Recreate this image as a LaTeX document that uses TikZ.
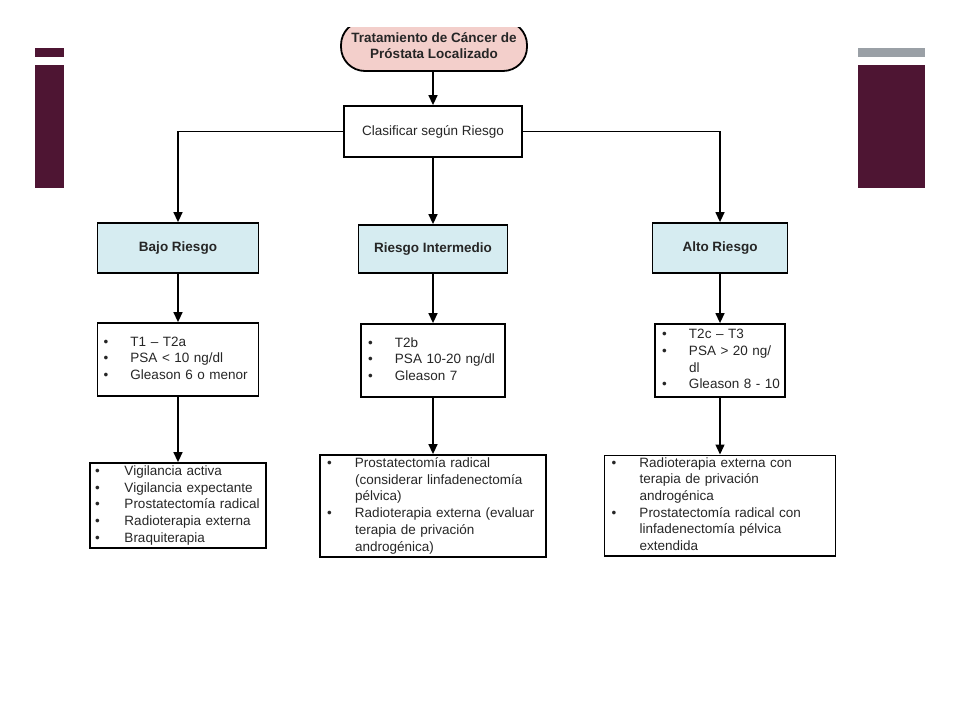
\documentclass[tikz,border=0pt]{standalone}
\usepackage{fontspec}
\setmainfont{Liberation Sans}
\usetikzlibrary{arrows.meta}
\definecolor{maroon}{HTML}{4E1533}
\definecolor{greybar}{HTML}{9AA0A6}
\definecolor{pinkfill}{HTML}{F3CFCB}
\definecolor{bluefill}{HTML}{D6ECF1}
\definecolor{txt}{HTML}{262626}
\newcommand{\bulletlist}[2][27pt]{\begin{tabular}{@{}p{#1}@{}l@{}}#2\end{tabular}}
\tikzset{
  every node/.style={font=\fontsize{13.5}{16.7}\selectfont, text=txt},
  plainbox/.style={draw=black, line width=1.8pt, fill=white, inner sep=0pt},
  headbox/.style={draw=black, line width=1.8pt, fill=bluefill, inner sep=0pt, font=\fontsize{13.5}{16}\selectfont\bfseries},
  listbox/.style={draw=black, line width=1.8pt, fill=white, inner xsep=6pt, inner ysep=0pt, align=left},
  arr/.style={line width=1.4pt, -{Triangle[length=10pt,width=9pt]}},
  bar/.style={fill=#1, draw=none}
}
\begin{document}
\begin{tikzpicture}[x=1pt,y=-1pt]
\useasboundingbox[fill=white] (0,0) rectangle (960,720);
% side decorations
\fill[bar=maroon] (35,48) rectangle (64,57);
\fill[bar=maroon] (35,65) rectangle (64,188);
\fill[bar=greybar] (858,48) rectangle (925,57);
\fill[bar=maroon] (858,65) rectangle (925,188);
% top node (clipped at top)
\begin{scope}
\clip (300,27) rectangle (560,80);
\node[draw=black, line width=1.8pt, fill=pinkfill, rounded corners=24pt, minimum width=186pt, minimum height=50pt, inner sep=0pt, align=center, font=\fontsize{13.5}{16}\selectfont\bfseries] (top) at (434,46) {Tratamiento de Cáncer de\\Próstata Localizado};
\end{scope}
\node[plainbox, minimum width=178pt, minimum height=51pt] (clas) at (433,131.5) {Clasificar según Riesgo};
% headers
\node[headbox, minimum width=161pt, minimum height=50pt] (bajo) at (178,248) {Bajo Riesgo};
\node[headbox, minimum width=149pt, minimum height=48pt] (inter) at (433,249) {Riesgo Intermedio};
\node[headbox, minimum width=135pt, minimum height=50pt] (alto) at (720,248) {Alto Riesgo};
% criteria
\node[listbox, minimum width=161pt, minimum height=73pt, text width=149pt] (bajoc) at (178,359.5) {\bulletlist{•&T1 – T2a\\•&PSA < 10 ng/dl\\•&Gleason 6 o menor}};
\node[listbox, minimum width=144pt, minimum height=73pt, text width=130pt, inner xsep=7pt] (interc) at (433,360.5) {\bulletlist{•&T2b\\•&PSA 10-20 ng/dl\\•&Gleason 7}};
\node[listbox, minimum width=130pt, minimum height=73pt, text width=116pt, inner xsep=7pt] (altoc) at (720,360.5) {\bulletlist{•&T2c – T3\\•&PSA > 20 ng/\\&dl\\•&Gleason 8 - 10}};
% treatments
\node[listbox, minimum width=176pt, minimum height=85pt, text width=166pt, inner xsep=5pt] (bajot) at (178,505.5) {\bulletlist[29.5pt]{•&Vigilancia activa\\•&Vigilancia expectante\\•&Prostatectomía radical\\•&Radioterapia externa\\•&Braquiterapia}};
\node[listbox, minimum width=226pt, minimum height=102pt, text width=212pt, inner xsep=7pt] (intert) at (433,506) {\bulletlist[28pt]{•&Prostatectomía radical\\&(considerar linfadenectomía\\&pélvica)\\•&Radioterapia externa (evaluar\\&terapia de privación\\&androgénica)}};
\node[listbox, minimum width=231pt, minimum height=97pt, text width=217pt, inner xsep=7pt] (altot) at (720,505.5) {\bulletlist[28pt]{•&Radioterapia externa con\\&terapia de privación\\&androgénica\\•&Prostatectomía radical con\\&linfadenectomía pélvica\\&extendida}};
% connectors
\draw[arr] (top.south -| clas.north) -- (clas.north);
\draw[arr] (clas.west) -| (bajo.north);
\draw[arr] (clas.east) -| (alto.north);
\draw[arr] (clas.south) -- (inter.north);
\draw[arr] (bajo.south) -- (bajoc.north);
\draw[arr] (inter.south) -- (interc.north);
\draw[arr] (alto.south) -- (altoc.north);
\draw[arr] (bajoc.south) -- (bajot.north);
\draw[arr] (interc.south) -- (intert.north);
\draw[arr] (altoc.south) -- (altot.north);
\end{tikzpicture}
\end{document}
